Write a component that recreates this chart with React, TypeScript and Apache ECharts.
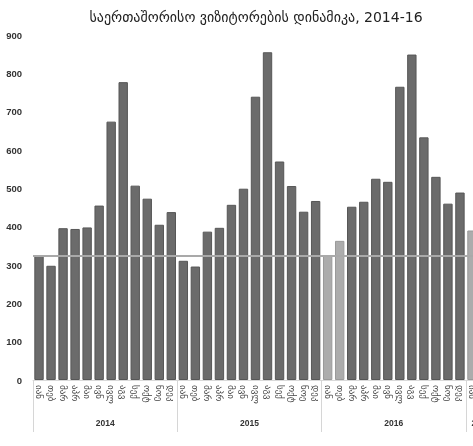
import React, { useEffect, useRef } from "react";
import * as echarts from "echarts";

const monthNames = ["იან", "თებ", "მარ", "აპრ", "მაი", "ივნ", "ივლ", "აგვ", "სექ", "ოქტ", "ნოე", "დეკ"];
const years = ["2014", "2015", "2016", "2017"];
const values2014 = [325, 298, 396, 394, 398, 455, 674, 777, 507, 473, 405, 438];
const values2015 = [311, 296, 387, 397, 457, 499, 739, 855, 570, 506, 439, 467];
const values2016 = [326, 363, 452, 465, 525, 517, 765, 849, 633, 530, 460, 489];
const values2017 = [390];
const lightBars = ["2016-0", "2016-1", "2017-0"];
const referenceValue = 323;
const yTicks = [0, 900, 100];

const seriesByYear = [values2014, values2015, values2016, values2017];

export default function App() {
  const ref = useRef<HTMLDivElement>(null);

  useEffect(() => {
    if (!ref.current) return;
    const chart = echarts.init(ref.current, null, { renderer: "svg" });

    const cats: string[] = [];
    const data: any[] = [];
    seriesByYear.forEach((vals, yi) => {
      vals.forEach((v, mi) => {
        cats.push(monthNames[mi] + "|" + years[yi]);
        const light = lightBars.includes(years[yi] + "-" + mi);
        data.push({
          value: v,
          itemStyle: light
            ? { color: "#acacac", borderColor: "#9a9a9a" }
            : { color: "#6b6b6b", borderColor: "#575757" },
        });
      });
    });

    const yearLabelIdx: Record<number, string> = {};
    let start = 0;
    seriesByYear.forEach((vals, yi) => {
      const idx = vals.length >= 12 ? start + 6 : start;
      yearLabelIdx[idx] = years[yi];
      start += vals.length;
    });
    const boundaries: number[] = [];
    start = 0;
    seriesByYear.forEach((vals) => {
      boundaries.push(start);
      start += vals.length;
    });

    const yearRich = { fontSize: 8.5, fontWeight: "bold", fontFamily: "Liberation Sans", color: "#333" };

    chart.setOption({
      animation: false,
      title: {
        text: "საერთაშორისო ვიზიტორების დინამიკა, 2014-16",
        left: 251,
        top: 5,
        textAlign: "center",
        textStyle: {
          fontFamily: "DejaVu Sans",
          fontSize: 14,
          fontWeight: "normal",
          color: "#222",
        },
      },
      grid: { left: 33, width: 445, top: 35, bottom: 66, containLabel: false },
      xAxis: [
        {
          type: "category",
          data: cats,
          axisLine: { show: true, lineStyle: { color: "#d9d9d9" } },
          axisTick: { show: false },
          axisLabel: {
            interval: 0,
            rotate: -90,
            margin: 5,
            fontSize: 9,
            fontFamily: "DejaVu Sans",
            color: "#444",
            formatter: (v: string) => v.split("|")[0],
          },
        },
        {
          type: "category",
          data: cats,
          position: "bottom",
          axisLine: { show: false },
          axisTick: {
            show: true,
            length: 52,
            interval: (i: number) => boundaries.includes(i),
            lineStyle: { color: "#d6d6d6" },
          },
          axisLabel: {
            interval: (i: number) => yearLabelIdx[i] !== undefined,
            margin: 38,
            ...yearRich,
            formatter: (_v: string, i: number) => {
              const y = yearLabelIdx[i];
              if (!y) return "";
              return i === boundaries[3] ? "{r|" + y + "}" : "{l|" + y + "}";
            },
            rich: {
              l: { padding: [0, 12, 0, 0], ...yearRich },
              r: { padding: [0, 0, 0, 18], ...yearRich },
            },
          },
        },
      ],
      yAxis: {
        type: "value",
        min: yTicks[0],
        max: yTicks[1],
        interval: yTicks[2],
        axisLine: { show: false },
        axisTick: { show: false },
        splitLine: { show: false },
        axisLabel: {
          margin: 11,
          fontSize: 9.5,
          fontWeight: "bold",
          fontFamily: "Liberation Sans",
          color: "#333",
        },
      },
      series: [
        {
          type: "bar",
          data,
          barCategoryGap: "22%",
          itemStyle: { borderWidth: 1 },
          markLine: {
            silent: true,
            symbol: "none",
            label: { show: false },
            lineStyle: { color: "#a9a9a9", width: 2, type: "solid" },
            data: [{ yAxis: referenceValue }],
          },
        },
      ],
    });

    return () => chart.dispose();
  }, []);

  return (
    <div
      style={{ position: "fixed", left: 0, top: 0, width: 473, height: 446, overflow: "hidden" }}
    >
      <div ref={ref} style={{ width: 500, height: 446 }} />
    </div>
  );
}
